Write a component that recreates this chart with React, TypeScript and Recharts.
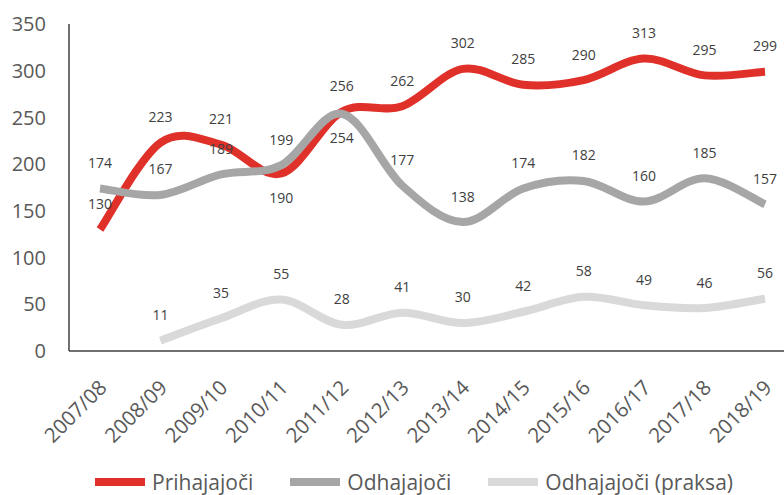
import React from "react";
import { LineChart, Line, XAxis, YAxis, Legend } from "recharts";

const years = [
  "2007/08", "2008/09", "2009/10", "2010/11", "2011/12", "2012/13",
  "2013/14", "2014/15", "2015/16", "2016/17", "2017/18", "2018/19",
];
const prihajajoci = [130, 223, 221, 190, 256, 262, 302, 285, 290, 313, 295, 299];
const odhajajoci = [174, 167, 189, 199, 254, 177, 138, 174, 182, 160, 185, 157];
const praksa = [null, 11, 35, 55, 28, 41, 30, 42, 58, 49, 46, 56];
const yTicks = [0, 50, 100, 150, 200, 250, 300, 350];

// labels drawn under the point instead of above
const redBelow = [3];
const grayBelow = [4];

const FONT = "'Open Sans', sans-serif";

const series = [
  { key: "prihajajoci", name: "Prihajajoči", color: "#E0302A", below: redBelow },
  { key: "odhajajoci", name: "Odhajajoči", color: "#A6A6A6", below: grayBelow },
  { key: "praksa", name: "Odhajajoči (praksa)", color: "#D9D9D9", below: [] as number[] },
];

const data = years.map((y, i) => ({
  year: y,
  prihajajoci: prihajajoci[i],
  odhajajoci: odhajajoci[i],
  praksa: praksa[i],
}));

// excel-like smooth curve (cardinal, tension 0)
const excelCurve = (context: any) => {
  let pts: [number, number][] = [];
  return {
    areaStart() {},
    areaEnd() {},
    lineStart() {
      pts = [];
    },
    point(x: number, y: number) {
      pts.push([+x, +y]);
    },
    lineEnd() {
      if (!pts.length) return;
      context.moveTo(pts[0][0], pts[0][1]);
      for (let i = 0; i < pts.length - 1; i++) {
        const p0 = pts[i - 1] || pts[i];
        const p1 = pts[i];
        const p2 = pts[i + 1];
        const p3 = pts[i + 2] || pts[i + 1];
        context.bezierCurveTo(
          p1[0] + (p2[0] - p0[0]) / 6,
          p1[1] + (p2[1] - p0[1]) / 6,
          p2[0] - (p3[0] - p1[0]) / 6,
          p2[1] - (p3[1] - p1[1]) / 6,
          p2[0],
          p2[1]
        );
      }
    },
  };
};

const makeLabel = (below: number[]) => (props: any) => {
  const { x, y, value, index } = props;
  if (value == null) return null;
  const dy = below.includes(index) ? 24 : -26;
  return (
    <text
      x={x}
      y={y + dy}
      textAnchor="middle"
      dominantBaseline="central"
      fontFamily={FONT}
      fontSize={14}
      fill="#404040"
    >
      {value}
    </text>
  );
};

const XTick = (props: any) => {
  const { x, y, payload } = props;
  return (
    <g transform={`translate(${x + 8},${y + 30})`}>
      <text
        transform="rotate(-45)"
        textAnchor="end"
        fontFamily={FONT}
        fontSize={20.5}
        fill="#595959"
      >
        {payload.value}
      </text>
    </g>
  );
};

const LegendContent = () => (
  <div
    style={{
      display: "flex",
      alignItems: "center",
      height: 24,
      paddingLeft: 95,
      fontFamily: FONT,
      fontSize: 21,
      color: "#595959",
    }}
  >
    {series.map((s) => (
      <div key={s.key} style={{ display: "flex", alignItems: "center", marginRight: 37 }}>
        <div style={{ width: 50, height: 8, background: s.color, marginRight: 7 }} />
        <span style={{ lineHeight: "24px" }}>{s.name}</span>
      </div>
    ))}
  </div>
);

export default function App() {
  return (
    <div style={{ position: "absolute", left: 0, top: 0, background: "#fff" }}>
      <LineChart
        width={784}
        height={495}
        data={data}
        margin={{ top: 24, right: 0, bottom: 0, left: 0 }}
      >
        <XAxis
          dataKey="year"
          tick={<XTick />}
          tickLine={false}
          interval={0}
          height={120}
          padding={{ left: 31, right: 19 }}
          axisLine={{ stroke: "#404040", strokeWidth: 1.5 }}
        />
        <YAxis
          width={69}
          domain={[0, 350]}
          ticks={yTicks}
          tickLine={false}
          tickSize={0}
          tickMargin={23}
          interval={0}
          axisLine={{ stroke: "#404040", strokeWidth: 1.5 }}
          tick={{ fontFamily: FONT, fontSize: 20, fill: "#595959" }}
        />
        <Legend
          content={<LegendContent />}
          wrapperStyle={{ top: 470, left: 0, width: 784, height: 24 }}
        />
        {series.map((s) => (
          <Line
            key={s.key}
            dataKey={s.key}
            name={s.name}
            type={excelCurve as any}
            stroke={s.color}
            strokeWidth={8}
            dot={false}
            activeDot={false}
            connectNulls={false}
            isAnimationActive={false}
            label={makeLabel(s.below)}
          />
        ))}
      </LineChart>
    </div>
  );
}
